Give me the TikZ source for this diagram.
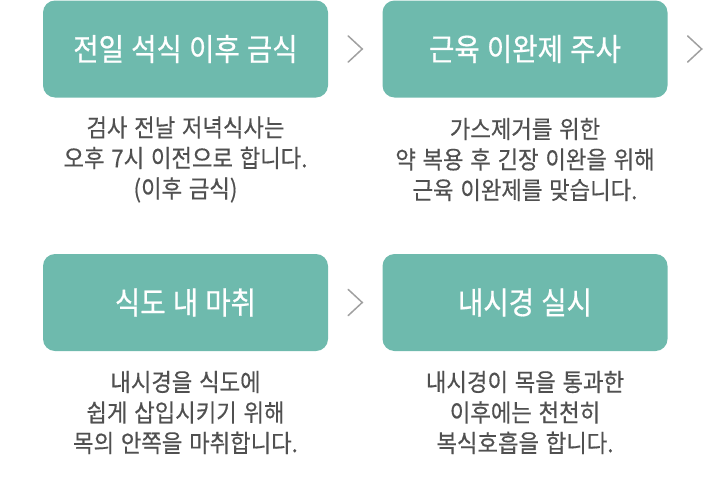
\documentclass[tikz,border=0pt]{standalone}
\usepackage{fontspec}
\setmainfont{Noto Sans CJK KR}
\newfontfamily\descfont{Noto Sans CJK KR}[FakeBold=0.4, FakeStretch=0.91, WordSpace=1.35]
\newfontfamily\titlefont{Noto Sans CJK KR}[FakeBold=0.6, FakeStretch=0.89, WordSpace=1.15]
\usetikzlibrary{calc}
\definecolor{teal1}{HTML}{6EBAAD}
\definecolor{desc}{HTML}{505050}
\definecolor{chev}{HTML}{A0A0A0}
\tikzset{
  stepbox/.style={fill=teal1, draw=none, rounded corners=12pt, minimum width=285pt, minimum height=97pt, inner sep=0pt,
    text=white, font=\titlefont\fontsize{31}{34}\selectfont},
  desctext/.style={text=desc, align=center, font=\descfont\fontsize{24.5}{30.5}\selectfont, inner sep=0pt},
  chevron/.style={draw=chev, line width=1.5pt, line cap=round, line join=miter}
}
\begin{document}
\begin{tikzpicture}[x=1pt,y=-1pt]
\useasboundingbox (0,0) rectangle (720,498);
\node[stepbox] (b1) at (185.5,49) {전일 석식 이후 금식};
\node[stepbox] (b2) at (525,49) {근육 이완제 주사};
\node[stepbox] (b3) at (185.5,302.5) {식도 내 마취};
\node[stepbox] (b4) at (525,302.5) {내시경 실시};

\node[desctext] (d1) at (185.5,159.5) {검사 전날 저녁식사는\\오후 7시 이전으로 합니다.\\(이후 금식)};
\node[desctext] (d2) at (525,159.5) {가스제거를 위한\\약 복용 후 긴장 이완을 위해\\근육 이완제를 맞습니다.};
\node[desctext] (d3) at (185.5,412.5) {내시경을 식도에\\쉽게 삽입시키기 위해\\목의 안쪽을 마취합니다.};
\node[desctext] (d4) at (525,412.5) {내시경이 목을 통과한\\이후에는 천천히\\복식호흡을 합니다.};

\coordinate (c1) at ($(b1.east)!0.5!(b2.west)$);
\coordinate (c2) at ([xshift=27pt]b2.east);
\coordinate (c3) at ($(b3.east)!0.5!(b4.west)$);
\foreach \c in {c1,c2,c3}{
  \draw[chevron] ([xshift=-7pt,yshift=13pt]\c) -- ([xshift=7pt]\c) -- ([xshift=-7pt,yshift=-13pt]\c);
}
\end{tikzpicture}
\end{document}
